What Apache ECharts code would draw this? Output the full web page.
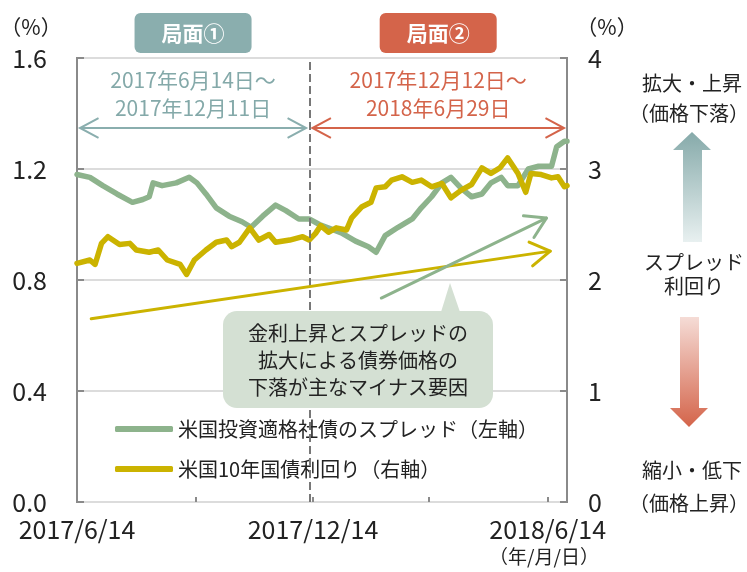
<!DOCTYPE html>
<html>
<head>
<meta charset="utf-8">
<script src="https://cdn.jsdelivr.net/npm/echarts@6/dist/echarts.min.js"></script>
<style>
  html, body { margin: 0; padding: 0; background: #fff; }
  #chart { width: 747px; height: 572px; }
</style>
</head>
<body>
<div id="chart"></div>
<script>
// 期間
const startDate = '2017-06-14';
const endDate = '2018-06-29';
const xTickDates = ['2017-06-14', '2017-09-14', '2017-12-14', '2018-03-14', '2018-06-14'];
const xLabelDates = ['2017-06-14', '2017-12-14', '2018-06-14'];
const xLabelTexts = ['2017/6/14', '2017/12/14', '2018/6/14'];

// 米国投資適格社債のスプレッド（左軸, %）
const spreadDates = ['2017-06-14','2017-06-24','2017-07-04','2017-07-15','2017-07-27','2017-08-04','2017-08-09','2017-08-12','2017-08-19','2017-08-30',
  '2017-09-09','2017-09-15','2017-09-22','2017-09-30','2017-10-10','2017-10-20','2017-10-27','2017-11-05','2017-11-15','2017-11-23',
  '2017-12-03','2017-12-11','2017-12-19','2018-01-05','2018-01-16','2018-01-26','2018-02-01','2018-02-08','2018-02-18','2018-03-01',
  '2018-03-08','2018-03-16','2018-03-24','2018-03-31','2018-04-08','2018-04-16','2018-04-24','2018-05-01','2018-05-09','2018-05-14',
  '2018-05-22','2018-05-30','2018-06-07','2018-06-17','2018-06-21','2018-06-27','2018-06-29'];
const spreadValues = [1.18,1.17,1.14,1.11,1.08,1.09,1.10,1.15,1.14,1.15,
  1.17,1.15,1.11,1.06,1.03,1.01,0.99,1.03,1.07,1.05,
  1.02,1.02,1.00,0.97,0.94,0.92,0.90,0.96,0.99,1.02,
  1.06,1.10,1.15,1.17,1.13,1.10,1.11,1.15,1.17,1.14,
  1.14,1.20,1.21,1.21,1.28,1.30,1.30];

// 米国10年国債利回り（右軸, %）
const yieldDates = ['2017-06-14','2017-06-24','2017-06-28','2017-07-03','2017-07-08','2017-07-17','2017-07-25','2017-07-30','2017-08-09','2017-08-16',
  '2017-08-23','2017-09-02','2017-09-07','2017-09-13','2017-09-22','2017-09-30','2017-10-08','2017-10-12','2017-10-18','2017-10-26',
  '2017-11-02','2017-11-10','2017-11-15','2017-11-26','2017-12-06','2017-12-11','2017-12-16','2017-12-20','2017-12-26','2018-01-01',
  '2018-01-09','2018-01-13','2018-01-21','2018-01-28','2018-02-01','2018-02-08','2018-02-13','2018-02-21','2018-03-01','2018-03-08',
  '2018-03-16','2018-03-24','2018-03-31','2018-04-08','2018-04-16','2018-04-24','2018-05-01','2018-05-08','2018-05-14','2018-05-22',
  '2018-05-28','2018-06-01','2018-06-09','2018-06-17','2018-06-22','2018-06-27','2018-06-29'];
const yieldValues = [2.15,2.18,2.14,2.33,2.39,2.32,2.33,2.27,2.25,2.27,
  2.18,2.14,2.05,2.18,2.27,2.34,2.36,2.30,2.34,2.47,
  2.36,2.41,2.34,2.36,2.39,2.36,2.42,2.49,2.43,2.47,
  2.45,2.56,2.66,2.70,2.83,2.84,2.90,2.93,2.88,2.90,
  2.84,2.87,2.74,2.81,2.86,3.01,2.96,3.01,3.10,2.96,
  2.79,2.96,2.95,2.92,2.93,2.84,2.85];

// 局面
const phaseNames = ['局面①', '局面②'];
const phaseStarts = ['2017-06-14', '2017-12-12'];
const phaseEnds = ['2017-12-11', '2018-06-29'];
const phaseLines = [['2017年6月14日～', '2017年12月11日'], ['2017年12月12日～', '2018年6月29日']];

// トレンド矢印 [日付, 値]（黄色は右軸、緑は左軸）
const yieldTrend = [['2017-06-25', 1.65], ['2018-06-16', 2.26]];
const spreadTrend = [['2018-02-05', 0.735], ['2018-06-13', 1.023]];

const seriesNames = ['米国投資適格社債のスプレッド（左軸）', '米国10年国債利回り（右軸）'];
const calloutText = '金利上昇とスプレッドの\n拡大による債券価格の\n下落が主なマイナス要因';

const FONT = '"Noto Sans CJK JP", "Noto Sans CJK SC", sans-serif';
const GREEN = '#8db38c';
const YELLOW = '#cbb300';
const TEAL = '#8aaeae';
const RED = '#d4644a';

const dayOf = s => (Date.parse(s) - Date.parse(startDate)) / 86400000;
const boundary = (dayOf(phaseEnds[0]) + dayOf(phaseStarts[1])) / 2;

const chart = echarts.init(document.getElementById('chart'));

chart.setOption({
  animation: false,
  textStyle: { fontFamily: FONT },
  grid: { left: 77, right: 180, top: 58, bottom: 70, show: true, borderColor: '#8a8a8a', borderWidth: 2 },
  legend: {
    orient: 'vertical', left: 110, top: 414, itemGap: 20,
    icon: 'roundRect', itemWidth: 58, itemHeight: 6,
    textStyle: { fontSize: 20, color: '#222', fontFamily: FONT },
    data: seriesNames
  },
  xAxis: {
    type: 'value', min: 0, max: dayOf(endDate),
    axisLine: { show: false },
    splitLine: { show: false },
    axisTick: { inside: true, length: 5, lineStyle: { color: '#8a8a8a', width: 2 }, customValues: xTickDates.map(dayOf) },
    axisLabel: {
      customValues: xLabelDates.map(dayOf), margin: 15,
      fontSize: 25, color: '#222', fontFamily: FONT,
      formatter: v => xLabelTexts[xLabelDates.map(dayOf).indexOf(v)] || ''
    }
  },
  yAxis: [{
    type: 'value', min: 0, max: 1.6, interval: 0.4, position: 'left',
    axisLine: { show: false },
    axisTick: { show: true, inside: true, length: 7, lineStyle: { color: '#8a8a8a', width: 2 } },
    splitLine: { lineStyle: { color: '#dcdcdc', width: 2 } },
    axisLabel: { margin: 30, fontSize: 25, color: '#222', fontFamily: FONT, formatter: v => v.toFixed(1) }
  }, {
    type: 'value', min: 0, max: 4, interval: 1, position: 'right',
    axisLine: { show: false },
    axisTick: { show: true, inside: true, length: 7, lineStyle: { color: '#8a8a8a', width: 2 } },
    splitLine: { show: false },
    axisLabel: { margin: 21, fontSize: 25, color: '#222', fontFamily: FONT }
  }],
  series: [{
    name: seriesNames[0], type: 'line', yAxisIndex: 0, symbol: 'none',
    color: GREEN,
    lineStyle: { width: 5.5, color: GREEN, cap: 'round', join: 'round' },
    data: spreadDates.map((d, i) => [dayOf(d), spreadValues[i]]),
    markLine: {
      silent: true, symbol: 'none', label: { show: false },
      lineStyle: { color: '#777', width: 2, type: [8, 4] },
      data: [{ xAxis: boundary }]
    },
    z: 2
  }, {
    name: seriesNames[1], type: 'line', yAxisIndex: 1, symbol: 'none',
    color: YELLOW,
    lineStyle: { width: 5.5, color: YELLOW, cap: 'round', join: 'round' },
    data: yieldDates.map((d, i) => [dayOf(d), yieldValues[i]]),
    z: 3
  }]
});

// 矢印の先端（開いた山形）
function chevron(tip, from, len, ang) {
  const dx = tip[0] - from[0], dy = tip[1] - from[1];
  const l = Math.sqrt(dx * dx + dy * dy);
  const ux = dx / l, uy = dy / l;
  const arm = s => {
    const c = Math.cos(s * ang), sn = Math.sin(s * ang);
    return [tip[0] - len * (ux * c - uy * sn), tip[1] - len * (ux * sn + uy * c)];
  };
  return [arm(1), tip, arm(-1)];
}

function txt(text, x, y, size, color, extra) {
  return {
    type: 'text', x: x, y: y, z: 100,
    style: Object.assign({
      text: text, fill: color, fontSize: size, fontFamily: FONT,
      align: 'center', verticalAlign: 'middle'
    }, extra || {})
  };
}

const px = (d, v, yi) => chart.convertToPixel({ xAxisIndex: 0, yAxisIndex: yi || 0 }, [dayOf(d), v]);
const gx = d => chart.convertToPixel({ xAxisIndex: 0 }, dayOf(d));

const g = [];
// 単位
g.push(txt('（%）', 31, 27, 21, '#222'));
g.push(txt('（%）', 607, 27, 21, '#222'));
g.push(txt('（年/月/日）', 544, 557, 19, '#222'));

// 局面バッジ・期間矢印
const phaseColors = [TEAL, RED];
const phaseTextColors = ['#84a9a9', RED];
phaseNames.forEach((name, i) => {
  const x0 = gx(phaseStarts[i]) + (i === 1 ? 2 : 3);
  const x1 = gx(phaseEnds[i]) - 3;
  const cx = (x0 + x1) / 2;
  const y = 128;
  g.push({ type: 'rect', shape: { x: cx - 58.5, y: 13, width: 117, height: 40, r: 6 }, style: { fill: phaseColors[i] }, z: 100 });
  g.push(txt(name, cx, 33, 21, '#fff', { fontWeight: 'bold' }));
  g.push(txt(phaseLines[i][0], cx, 80, 21, phaseTextColors[i]));
  g.push(txt(phaseLines[i][1], cx, 108, 21, phaseTextColors[i]));
  const st = { stroke: phaseColors[i], lineWidth: 2, fill: null };
  g.push({ type: 'polyline', shape: { points: [[x0, y], [x1, y]] }, style: st, z: 100 });
  g.push({ type: 'polyline', shape: { points: chevron([x1, y], [x0, y], 21, 0.49) }, style: st, z: 100 });
  g.push({ type: 'polyline', shape: { points: chevron([x0, y], [x1, y], 21, 0.49) }, style: st, z: 100 });
});

// トレンド矢印
[[yieldTrend, 1, YELLOW], [spreadTrend, 0, GREEN]].forEach(([tr, yi, col]) => {
  const a = px(tr[0][0], tr[0][1], yi), b = px(tr[1][0], tr[1][1], yi);
  const st = { stroke: col, lineWidth: 3, fill: null, lineCap: 'round', lineJoin: 'round' };
  g.push({ type: 'polyline', shape: { points: [a, b] }, style: st, z: 90 });
  g.push({ type: 'polyline', shape: { points: chevron(b, a, 23, 0.55) }, style: st, z: 90 });
});

// 吹き出し
g.push({ type: 'polygon', shape: { points: [[441, 312], [450, 283], [460, 312]] }, style: { fill: '#d4e0d3' }, z: 95 });
g.push({ type: 'rect', shape: { x: 223, y: 311, width: 270, height: 97, r: 14 }, style: { fill: '#d4e0d3' }, z: 95 });
g.push(txt(calloutText, 358, 360, 20, '#222', { lineHeight: 27 }));

// 右側の説明
g.push(txt('拡大・上昇', 692, 83, 20, '#222'));
g.push(txt('（価格下落）', 689, 113, 20, '#222'));
g.push({
  type: 'polygon', z: 100,
  shape: { points: [[692, 132], [711, 150], [702, 150], [702, 242], [683, 242], [683, 150], [673, 150]] },
  style: { fill: { type: 'linear', x: 0, y: 0, x2: 0, y2: 1, colorStops: [{ offset: 0, color: '#86aaaa' }, { offset: 1, color: '#e8f0f0' }] } }
});
g.push(txt('スプレッド', 694, 262, 20, '#222'));
g.push(txt('利回り', 694, 286, 20, '#222'));
g.push({
  type: 'polygon', z: 100,
  shape: { points: [[680, 317], [699, 317], [699, 408], [708, 408], [689, 427], [670, 408], [680, 408]] },
  style: { fill: { type: 'linear', x: 0, y: 0, x2: 0, y2: 1, colorStops: [{ offset: 0, color: '#f5dcd6' }, { offset: 1, color: '#d4644a' }] } }
});
g.push(txt('縮小・低下', 692, 470, 20, '#222'));
g.push(txt('（価格上昇）', 689, 503, 20, '#222'));

chart.setOption({ graphic: g });
</script>
</body>
</html>
